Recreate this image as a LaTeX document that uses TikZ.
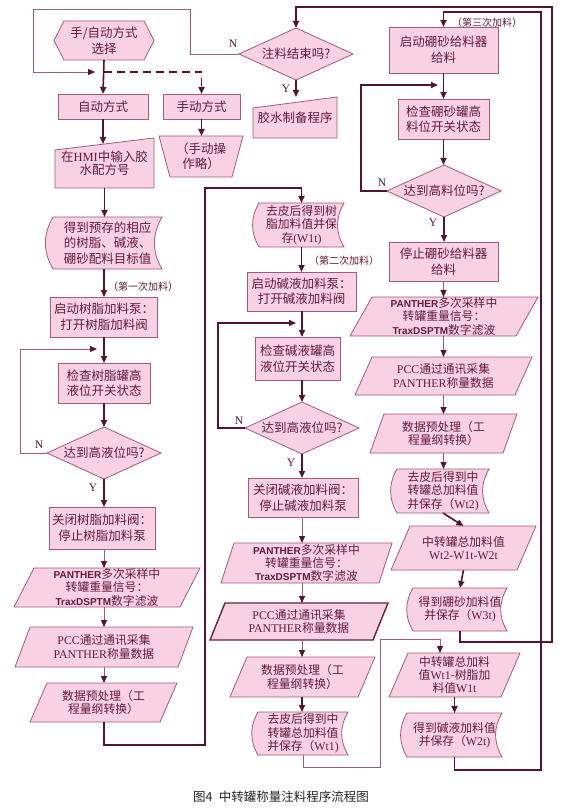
\documentclass[tikz,border=0pt]{standalone}
\usepackage{fontspec}
\setmainfont{Noto Sans CJK SC}
\newfontfamily\lat{Liberation Sans}
\newfontfamily\ser{Liberation Serif}
\usetikzlibrary{arrows.meta,backgrounds}
\definecolor{fillc}{RGB}{248,210,227}
\definecolor{bordc}{RGB}{160,90,125}
\definecolor{linec}{RGB}{85,20,45}
\definecolor{txtc}{RGB}{100,25,60}
\newcommand\ShPara[2]{\draw[shp] ([xshift=#2]#1.north west) -- (#1.north east) -- ([xshift=-#2]#1.south east) -- (#1.south west) -- cycle;}
\newcommand\ShStor[1]{\draw[shp] (#1.north west) to[bend right=30] (#1.south west) -- (#1.south east) to[bend left=30] (#1.north east) -- cycle;}
\newcommand\ShMin[2]{\draw[shp] (#1.south west) -- ([yshift=-#2]#1.north west) -- (#1.north east) -- (#1.south east) -- cycle;}
\newcommand\ShMop[2]{\draw[shp] (#1.north west) -- (#1.north east) -- ([xshift=-#2]#1.south east) -- ([xshift=#2]#1.south west) -- cycle;}
\newcommand\ShHex[2]{\draw[shp] (#1.west) -- ([xshift=#2]#1.north west) -- ([xshift=-#2]#1.north east) -- (#1.east) -- ([xshift=-#2]#1.south east) -- ([xshift=#2]#1.south west) -- cycle;}
\newcommand\ShDia[1]{\draw[shp] (#1.west) -- (#1.north) -- (#1.east) -- (#1.south) -- cycle;}
\newcommand\PB[1]{{\lat\bfseries\fontsize{10}{12}\selectfont #1}}
\newcommand\SR[1]{{\ser #1}}
\tikzset{
 base/.style={inner sep=0pt, outer sep=0pt, align=center, text=txtc, font=\fontsize{12.5}{15.5}\selectfont},
 rbox/.style={base, draw=bordc, fill=fillc, line width=0.8pt},
 sbox/.style={base},
 small/.style={font=\fontsize{11.8}{13.4}\selectfont},
 shp/.style={draw=bordc, fill=fillc, line width=0.8pt},
 conn/.style={draw=linec, line width=1.6pt, -{Triangle[length=7pt,width=6pt]}},
 thinc/.style={draw=bordc, line width=0.8pt, -{Triangle[length=7pt,width=6pt,color=linec]}},
 yn/.style={text=linec, font=\ser\fontsize{11.5}{12}\selectfont},
 note/.style={text=txtc, font=\fontsize{10}{12}\selectfont, anchor=west, inner sep=0pt},
}
\begin{document}
\begin{tikzpicture}[x=1pt,y=1pt]
\useasboundingbox (0,0) rectangle (585,-810);
\begin{scope}[on background layer]
\fill[white] (0,0) rectangle (585,-810);
\end{scope}
% ---------- column 1 ----------
\node[sbox, minimum width=100pt, minimum height=39pt] (hex) at (104,-40.5) {手/自动方式\\选择};
\node[rbox, minimum width=90pt, minimum height=25pt] (auto) at (103,-106.5) {自动方式};
\node[rbox, minimum width=77pt, minimum height=25pt] (man) at (201.5,-106.5) {手动方式};
\node[sbox, minimum width=84pt, minimum height=41pt] (manop) at (201,-156.5) {（手动操\\作略）};
\node[sbox, minimum width=99pt, minimum height=50pt] (hmi) at (104.5,-163) {\raisebox{-3pt}{在\SR{HMI}中输入胶}\\水配方号};
\node[sbox, minimum width=109pt, minimum height=52pt] (pre) at (107.5,-243) {得到预存的相应\\的树脂、碱液、\\硼砂配料目标值};
\node[note] (lab1) at (108,-287) {（第一次加料）};
\node[rbox, minimum width=107pt, minimum height=40pt] (pump1) at (104,-317) {启动树脂加料泵：\\打开树脂加料阀};
\node[rbox, minimum width=92pt, minimum height=40pt] (chk1) at (104,-383) {检查树脂罐高\\液位开关状态};
\node[sbox, minimum width=114pt, minimum height=52pt] (d1) at (104,-453) {达到高液位吗?};
\node[rbox, minimum width=106pt, minimum height=42pt] (close1) at (102,-528) {关闭树脂加料阀：\\停止树脂加料泵};
\node[sbox, small, minimum width=186pt, minimum height=39pt] (pan1) at (107,-587.5) {\PB{PANTHER}多次采样中\\转罐重量信号：\\\PB{TraxDSPTM}数字滤波};
\node[sbox, small, minimum width=178pt, minimum height=40pt] (pcc1) at (104,-647) {\SR{PCC}通过通讯采集\\\SR{PANTHER}称量数据};
\node[sbox, small, minimum width=147pt, minimum height=39pt] (dp1) at (103.5,-702.5) {数据预处理（工\\程量纲转换）};
% ---------- column 2 ----------
\node[sbox, minimum width=114pt, minimum height=52pt] (endq) at (296,-54) {注料结束吗?};
\node[sbox, minimum width=84pt, minimum height=41pt] (glue) at (295,-117.5) {\raisebox{-4pt}{胶水制备程序}};
\node[sbox, small, minimum width=85pt, minimum height=44pt] (w1t) at (301.5,-225) {去皮后得到树\\脂加料值并保\\存\SR{(W1t)}};
\node[note] (lab2) at (309,-261) {（第二次加料）};
\node[rbox, minimum width=109pt, minimum height=39pt] (pump2) at (301.5,-291.5) {启动碱液加料泵：\\打开碱液加料阀};
\node[rbox, minimum width=85pt, minimum height=43pt] (chk2) at (297.5,-358.5) {检查碱液罐高\\液位开关状态};
\node[sbox, minimum width=114pt, minimum height=52pt] (d2) at (302,-428) {达到高液位吗?};
\node[rbox, minimum width=110pt, minimum height=39pt] (close2) at (303,-497.5) {关闭碱液加料阀：\\停止碱液加料泵};
\node[sbox, small, minimum width=171pt, minimum height=40pt] (pan2) at (306.5,-563) {\PB{PANTHER}多次采样中\\转罐重量信号：\\\PB{TraxDSPTM}数字滤波};
\node[sbox, small, minimum width=178pt, minimum height=37pt] (pcc2) at (299,-621.5) {\SR{PCC}通过通讯采集\\\SR{PANTHER}称量数据};
\node[sbox, small, minimum width=145pt, minimum height=40pt] (dp2) at (302.5,-677) {数据预处理（工\\程量纲转换）};
\node[sbox, small, minimum width=90pt, minimum height=43pt] (wt1) at (303,-733.5) {去皮后得到中\\转罐总加料值\\并保存（\SR{Wt1)}};
% ---------- column 3 ----------
\node[rbox, minimum width=109pt, minimum height=46pt] (boron1) at (443.5,-50) {启动硼砂给料器\\给料};
\node[note] (lab3) at (452,-23) {（第三次加料）};
\node[rbox, minimum width=91pt, minimum height=40pt] (chk3) at (443.5,-119) {检查硼砂罐高\\料位开关状态};
\node[sbox, minimum width=114pt, minimum height=52pt] (d3) at (444,-191) {达到高料位吗?};
\node[rbox, minimum width=109pt, minimum height=39pt] (stop3) at (443.5,-261.5) {停止硼砂给料器\\给料};
\node[sbox, small, minimum width=188pt, minimum height=39pt] (pan3) at (444,-316.5) {\PB{PANTHER}多次采样中\\转罐重量信号：\\\PB{TraxDSPTM}数字滤波};
\node[sbox, small, minimum width=177pt, minimum height=38pt] (pcc3) at (443.5,-376) {\SR{PCC}通过通讯采集\\\SR{PANTHER}称量数据};
\node[sbox, small, minimum width=147pt, minimum height=39pt] (dp3) at (443.5,-433.5) {数据预处理（工\\程量纲转换）};
\node[sbox, small, minimum width=92pt, minimum height=44pt] (wt2) at (443,-491) {去皮后得到中\\转罐总加料值\\并保存（\SR{Wt2)}};
\node[sbox, small, minimum width=145pt, minimum height=44pt] (tot) at (463.5,-548) {中转罐总加料值\\\SR{Wt2-W1t-W2t}};
\node[sbox, small, minimum width=94pt, minimum height=43pt] (w3t) at (460,-609.5) {得到硼砂加料值\\并保存（\SR{W3t)}};
\node[sbox, small, minimum width=131pt, minimum height=44pt] (sub) at (454.5,-675) {中转罐总加料\\值\SR{Wt1}-树脂加\\料值\SR{W1t}};
\node[sbox, small, minimum width=95pt, minimum height=44pt] (w2t) at (454.5,-735) {得到碱液加料值\\并保存（\SR{W2t)}};
% caption
\node[font=\fontsize{12.5}{14}\selectfont, text=black!85] (cap) at (281,-797) {图4\enspace 中转罐称量注料程序流程图};
% ---------- outlines ----------
\begin{scope}[on background layer]
\ShHex{hex}{10pt}
\ShMin{hmi}{12pt}
\ShMop{manop}{11pt}
\ShStor{pre}
\ShDia{d1}
\ShPara{pan1}{20pt}
\ShPara{pcc1}{15pt}
\ShPara{dp1}{17pt}
\ShDia{endq}
\ShMin{glue}{11pt}
\ShStor{w1t}
\ShDia{d2}
\ShPara{pan2}{13pt}
\draw[shp, line width=1.4pt, draw=linec!80!bordc] ([xshift=15pt]pcc2.north west) -- (pcc2.north east) -- ([xshift=-15pt]pcc2.south east) -- (pcc2.south west) -- cycle;
\ShPara{dp2}{17pt}
\ShStor{wt1}
\ShDia{d3}
\ShPara{pan3}{22pt}
\ShPara{pcc3}{17pt}
\ShPara{dp3}{14pt}
\ShStor{wt2}
\ShPara{tot}{19pt}
\ShStor{w3t}
\ShPara{sub}{19pt}
\ShStor{w2t}
\end{scope}
% ---------- coordinates ----------
\coordinate (dsh) at (104,-72);
\coordinate (lpA) at (190,-9);
\coordinate (lpB) at (33,-72);
\coordinate (lpC) at (95,-72);
\coordinate (l1A) at (20,-349);
\coordinate (l1B) at (97,-349);
\coordinate (l2A) at (218,-323);
\coordinate (l2B) at (296,-323);
\coordinate (l3A) at (361,-85);
\coordinate (l3B) at (438,-85);
\coordinate (c1A) at (104,-745);
\coordinate (c1B) at (205,-188);
\coordinate (c2A) at (380,-767);
\coordinate (c2B) at (380,-639);
\coordinate (c2C) at (440,-639);
\coordinate (c3A) at (541,-770);
\coordinate (c3B) at (541,-12);
\coordinate (c4A) at (552,-642);
\coordinate (c4B) at (552,-7);
% ---------- connectors ----------
\draw[conn] (hex.south) -- (auto.north);
\draw[conn, dash pattern=on 8pt off 5pt] (dsh) -| (man.north);
\draw[thinc] (endq.west) -| (lpA) -| (lpB) -- (lpC);
\node[yn] (nq) at (233,-44) {N};
\draw[conn] (endq.south) -- (endq.south |- glue.north);
\node[yn] (yq) at (286,-89) {Y};
\draw[conn] (man.south) -- (man.south |- manop.north);
\draw[conn] (auto.south) -- ([yshift=-6pt]auto.south |- hmi.north);
\draw[conn] (hmi.south) -- (hmi.south |- pre.north);
\draw[conn] (pre.south -| pump1.north) -- (pump1.north);
\draw[conn] (pump1.south) -- (chk1.north);
\draw[thinc] (d1.west) -| (l1A) -- (l1B);
\node[yn] (n1) at (39,-445) {N};
\draw[conn] (chk1.south) -- (d1.north);
\draw[conn] (d1.south) -- (d1.south |- close1.north);
\node[yn] (y1) at (93,-488) {Y};
\draw[thinc] (close1.south -| d1.south) -- (d1.south |- pan1.north);
\draw[thinc] (d1.south |- pan1.south) -- (d1.south |- pcc1.north);
\draw[thinc] (d1.south |- pcc1.south) -- (d1.south |- dp1.north);
\draw[conn] (d1.south |- dp1.south) -- (c1A) -| (c1B) -| (w1t.north);
\draw[conn] (w1t.south) -- (w1t.south |- pump2.north);
\draw[conn] (d2.north |- pump2.south) -- (d2.north |- chk2.north);
\draw[conn] (d2.west) -| (l2A) -- (l2B);
\node[yn] (n2) at (239,-421) {N};
\draw[conn] (d2.north |- chk2.south) -- (d2.north);
\draw[conn] (d2.south) -- (d2.south |- close2.north);
\node[yn] (y2) at (291,-463) {Y};
\draw[thinc] (d2.south |- close2.south) -- (d2.south |- pan2.north);
\draw[thinc] (d2.south |- pan2.south) -- (d2.south |- pcc2.north);
\draw[thinc] (d2.south |- pcc2.south) -- (d2.south |- dp2.north);
\draw[conn] (d2.south |- dp2.south) -- (d2.south |- wt1.north);
\draw[thinc] (wt1.south) |- (c2A) -- (c2B) -- (c2C) -- (c2C |- sub.north);
\draw[conn] (w2t.south) |- (c3A) -- (c3B) -| (boron1.north);
\draw[conn] (w3t.south) |- (c4A) -- (c4B) -| (endq.north);
\draw[conn] (boron1.south) -- (chk3.north);
\draw[conn] (d3.west) -| (l3A) -- (l3B);
\node[yn] (n3) at (382,-183) {N};
\draw[conn] (chk3.south) -- (chk3.south |- d3.north);
\draw[conn] (d3.south) -- (d3.south |- stop3.north);
\node[yn] (y3) at (433,-223) {Y};
\draw[thinc] (stop3.south) -- (stop3.south |- pan3.north);
\draw[thinc] (stop3.south |- pan3.south) -- (stop3.south |- pcc3.north);
\draw[thinc] (stop3.south |- pcc3.south) -- (stop3.south |- dp3.north);
\draw[thinc] (stop3.south |- dp3.south) -- (stop3.south |- wt2.north);
\draw[conn] (wt2.south) -- (tot.north);
\draw[conn] (tot.south) -- (w3t.north);
\draw[conn] (sub.south) -- (w2t.north);
\end{tikzpicture}
\end{document}
